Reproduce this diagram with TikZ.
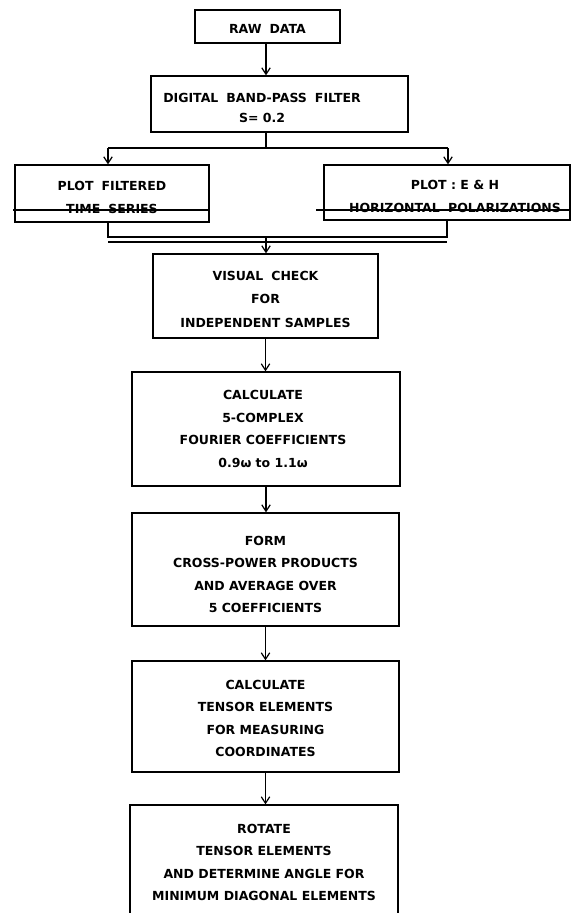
\documentclass[tikz,border=0pt]{standalone}
\usepackage{fontspec}
\setmainfont{DejaVu Sans}
\usetikzlibrary{arrows.meta}
\newcommand\wsp{\hspace{8pt}}
\begin{document}
\begin{tikzpicture}[x=1pt,y=-1pt,
  box/.style={draw,line width=1.3pt,rectangle,inner sep=0pt},
  txt/.style={inner sep=0pt,align=center,font=\fontsize{12.5}{22.5}\selectfont\bfseries},
  arr/.style={line width=1.3pt,-{Straight Barb[length=6.5pt,width=8.5pt,line width=1.2pt]}},
  ln/.style={line width=1.3pt},
  thk/.style={line width=2.2pt}]
\useasboundingbox[fill=white] (0,0) rectangle (580,913);
% boxes
\node[box,minimum width=145pt,minimum height=33pt] (raw) at (267.5,26.5) {};
\node[box,minimum width=257pt,minimum height=56pt] (filt) at (279.5,104) {};
\node[box,minimum width=194pt,minimum height=57pt] (left) at (112,193.5) {};
\node[box,minimum width=246pt,minimum height=55pt] (right) at (447,192.5) {};
\node[box,minimum width=225pt,minimum height=84pt] (vis) at (265.5,296) {};
\node[box,minimum width=268pt,minimum height=114pt] (calc) at (266,429) {};
\node[box,minimum width=267pt,minimum height=113pt] (form) at (265.5,569.5) {};
\node[box,minimum width=267pt,minimum height=111pt] (tens) at (265.5,716.5) {};
\node[box,minimum width=268pt,minimum height=113pt] (rot) at (264,861.5) {};
% texts
\node[txt] (rawt) at (267.5,28.5) {RAW\wsp DATA};
\node[txt] (filtt) at (262,107.5) {DIGITAL\wsp BAND-PASS\wsp FILTER\\[-2.5pt] S= 0.2};
\node[txt] (leftt) at (112,197.5) {PLOT\wsp FILTERED\\[0pt] TIME\wsp SERIES};
\node[txt] (rightt) at (455,196.5) {PLOT : E \& H\\[0pt] HORIZONTAL\hspace{4pt} POLARIZATIONS};
\node[txt] (vist) at (265.5,299) {VISUAL\wsp CHECK\\[1pt] FOR\\[1pt] INDEPENDENT SAMPLES};
\node[txt] (calct) at (263,429) {CALCULATE\\ 5-COMPLEX\\ FOURIER COEFFICIENTS\\ 0.9ω to 1.1ω};
\node[txt] (formt) at (265.5,574.5) {FORM\\ CROSS-POWER PRODUCTS\\ AND AVERAGE OVER\\ 5 COEFFICIENTS};
\node[txt] (tenst) at (265.5,718.5) {CALCULATE\\ TENSOR ELEMENTS\\ FOR MEASURING\\ COORDINATES};
\node[txt] (rott) at (264,862.5) {ROTATE\\ TENSOR ELEMENTS\\ AND DETERMINE ANGLE FOR\\ MINIMUM DIAGONAL ELEMENTS};
% split
\coordinate (s1) at (266,148);
\coordinate (sl) at (108,148);
\coordinate (sr) at (448,148);
\draw[arr] (raw.south -| s1) -- (filt.north -| s1);
\draw[ln] (filt.south -| s1) -- (s1);
\draw[ln] (sl) -- (sr);
\draw[arr] (sl) -- (sl |- left.north);
\draw[arr] (sr) -- (sr |- right.north);
% strike lines across the plot boxes
\coordinate (la) at (13,210);
\coordinate (ra) at (316,210);
\draw[ln] (la) -- (la -| left.east);
\draw[ln] (ra) -- (ra -| right.east);
% merge
\coordinate (ml) at (108,237);
\coordinate (mr) at (447,237);
\coordinate (mc) at (266,237);
\coordinate (ml2) at (108,242);
\coordinate (mr2) at (447,242);
\draw[ln] (ml |- left.south) -- (ml) -- (mr) -- (mr |- right.south);
\draw[thk] (ml2) -- (mr2);
\draw[arr] (mc) -- (mc |- vis.north);
% chain
\draw[arr] (vis.south) -- (vis.south |- calc.north);
\draw[arr] (calc.south) -- (calc.south |- form.north);
\draw[arr] (form.south) -- (form.south |- tens.north);
\draw[arr] (tens.south) -- (tens.south |- rot.north);
\end{tikzpicture}
\end{document}
